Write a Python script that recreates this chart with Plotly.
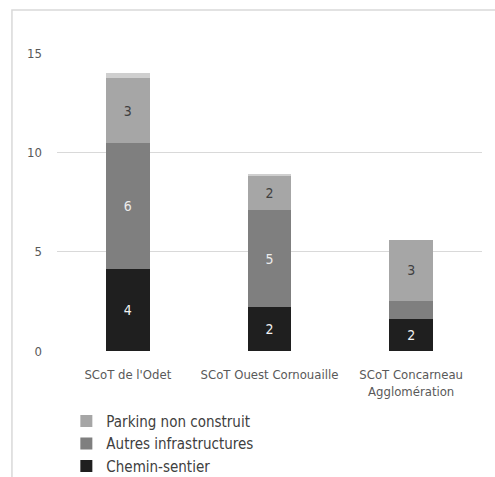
import plotly.graph_objects as go

# Categories (SCoT territories) and stacked values per land-use type
categories = ["SCoT de l'Odet", "SCoT Ouest Cornouaille", "SCoT Concarneau<br>Agglomération"]
chemin_sentier = [4.13, 2.21, 1.61]
autres_infra = [6.34, 4.89, 0.91]
parking_non_construit = [3.27, 1.71, 3.07]
reste = [0.25, 0.08, 0.0]
y_ticks = [0, 5, 10, 15]

FONT = "DejaVu Sans Condensed, Liberation Sans Narrow, sans-serif"

fig = go.Figure()

fig.add_trace(go.Bar(
    x=categories, y=chemin_sentier, name="Chemin-sentier",
    marker=dict(color="#1f1f1f", line=dict(width=0)),
    texttemplate="%{y:.0f}", textposition="inside", insidetextanchor="middle",
    textfont=dict(color="#f2f2f2", size=14, family=FONT), textangle=0,
))
fig.add_trace(go.Bar(
    x=categories, y=autres_infra, name="Autres infrastructures",
    marker=dict(color="#7f7f7f", line=dict(width=0)),
    texttemplate=["%{y:.0f}", "%{y:.0f}", ""], textposition="inside", insidetextanchor="middle",
    textfont=dict(color="#ececec", size=14, family=FONT), textangle=0,
))
fig.add_trace(go.Bar(
    x=categories, y=parking_non_construit, name="Parking non construit",
    marker=dict(color="#a6a6a6", line=dict(width=0)),
    texttemplate="%{y:.0f}", textposition="inside", insidetextanchor="middle",
    textfont=dict(color="#404040", size=14, family=FONT), textangle=0,
))
fig.add_trace(go.Bar(
    x=categories, y=reste, name="Autre",
    marker=dict(color="#cfcfcf", line=dict(width=0)),
    showlegend=False, hoverinfo="skip",
))

fig.update_layout(
    width=495, height=477,
    margin=dict(l=57, r=13, t=53, b=126, autoexpand=False),
    barmode="stack", bargap=0.69,
    paper_bgcolor="white", plot_bgcolor="white",
    font=dict(family=FONT, color="#595959", size=13),
    showlegend=True,
    legend=dict(
        orientation="v", traceorder="reversed",
        x=0.022, xanchor="left", y=-0.18, yanchor="top",
        font=dict(size=15, color="#404040", family=FONT),
        itemwidth=30, tracegroupgap=0, bgcolor="rgba(0,0,0,0)",
    ),
    shapes=[dict(
        type="rect", xref="paper", yref="paper",
        x0=-0.106, x1=1.1, y0=-0.46, y1=1.144,
        line=dict(color="#d9d9d9", width=1.5), layer="below",
    )],
)

fig.update_yaxes(
    range=[0, 15], tickvals=y_ticks, showgrid=True, gridcolor="#d9d9d9", gridwidth=1,
    zeroline=False, showline=False, ticks="", ticklabelstandoff=14,
    tickfont=dict(size=13, color="#595959", family=FONT),
)
fig.update_xaxes(
    showgrid=False, showline=False, ticks="", ticklabelstandoff=14,
    tickfont=dict(size=13, color="#595959", family=FONT),
)

fig.write_html("out.html")
